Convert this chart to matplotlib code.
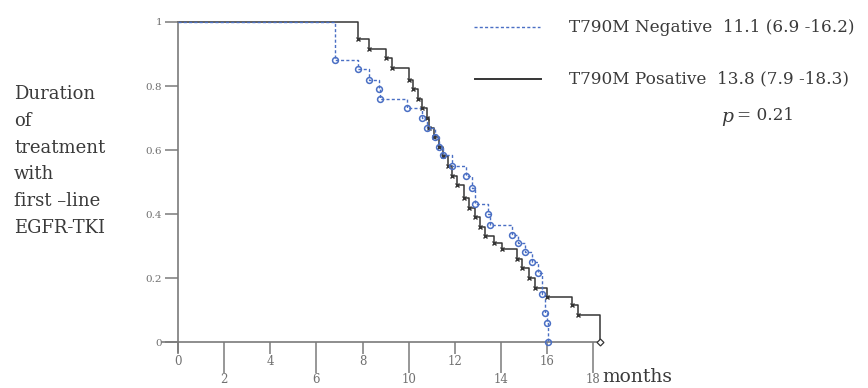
import numpy as np
import matplotlib as mpl
mpl.use('Agg')
import matplotlib.pyplot as plt
from matplotlib.ticker import FixedLocator, FixedFormatter

# Kaplan-Meier steps (months, proportion on treatment)
neg_t = [0, 6.8, 7.8, 8.3, 8.7, 8.75, 9.95, 10.6, 10.8, 11.15, 11.3, 11.5, 11.9,
         12.5, 12.75, 12.9, 13.45, 13.55, 14.5, 14.75, 15.05, 15.35, 15.6, 15.8,
         15.9, 16.0, 16.05]
neg_s = [1.0, 0.88, 0.853, 0.82, 0.79, 0.76, 0.73, 0.70, 0.67, 0.64, 0.61, 0.585, 0.55,
         0.52, 0.48, 0.43, 0.40, 0.365, 0.335, 0.31, 0.28, 0.25, 0.215, 0.15,
         0.09, 0.06, 0.0]

pos_t = [0, 7.8, 8.3, 9.0, 9.3, 10.0, 10.2, 10.4, 10.6, 10.8, 10.9, 11.1, 11.3, 11.5,
         11.7, 11.9, 12.1, 12.4, 12.6, 12.9, 13.1, 13.3, 13.7, 14.05, 14.7, 14.9,
         15.2, 15.5, 16.0, 17.1, 17.35, 18.3]
pos_s = [1.0, 0.947, 0.916, 0.886, 0.856, 0.82, 0.79, 0.76, 0.73, 0.70, 0.67, 0.64, 0.61, 0.58,
         0.55, 0.52, 0.49, 0.45, 0.42, 0.39, 0.36, 0.33, 0.31, 0.29, 0.26, 0.23,
         0.20, 0.17, 0.14, 0.115, 0.085, 0.0]

neg_label = "T790M Negative  11.1 (6.9 -16.2)"
pos_label = "T790M Posative  13.8 (7.9 -18.3)"
p_text = "= 0.21"

upper_ticks = [0, 4, 8, 12, 16]
lower_ticks = [2, 6, 10, 14, 18]
y_ticks = [0, 0.2, 0.4, 0.6, 0.8, 1]
y_ticklabels = ["0", "0.2", "0.4", "0.6", "0.8", "1"]

plt.rcParams['font.family'] = ['DejaVu Serif']

axc = '#7a7a7a'
txt = '#3a3a3a'
blue = '#4a6fc4'
dark = '#353535'

fig = plt.figure(figsize=(8.68, 3.88), dpi=100)
ax = fig.add_axes([0.1865, 0.0938, 0.5061, 0.8495])
ax.set_xlim(-0.7, 18.35)
ax.set_ylim(-0.03, 1.0)

# negative curve (dashed blue, open circles)
ax.step(neg_t, neg_s, where='post', color=blue, lw=1.0, ls=(0, (2.2, 1.6)), clip_on=False, zorder=3)
ax.plot(neg_t[1:], neg_s[1:], 'o', ms=4.2, mfc='none', mec=blue, mew=1.1, clip_on=False, zorder=4)

# positive curve (solid dark, small crosses)
ax.step(pos_t, pos_s, where='post', color=dark, lw=1.1, clip_on=False, zorder=2)
ax.plot(pos_t[1:-1], pos_s[1:-1], 'x', ms=3.2, color=dark, mew=1.0, clip_on=False, zorder=3)
ax.plot(pos_t[-1:], pos_s[-1:], 'D', ms=3.5, mfc='white', mec=dark, mew=0.9, clip_on=False, zorder=3)

for s in ['top', 'right']:
    ax.spines[s].set_visible(False)
ax.spines['left'].set_position(('data', 0))
ax.spines['bottom'].set_position(('data', 0))
for s in ['left', 'bottom']:
    ax.spines[s].set_color(axc)
    ax.spines[s].set_linewidth(1.2)

ax.set_yticks(y_ticks)
ax.set_yticklabels(y_ticklabels)
ax.tick_params(axis='y', direction='out', length=9.5, width=1.1, color=axc,
               labelsize=7.5, labelcolor='#707070', pad=2)

ax.xaxis.set_major_locator(FixedLocator(upper_ticks))
ax.xaxis.set_major_formatter(FixedFormatter([str(v) for v in upper_ticks]))
ax.xaxis.set_minor_locator(FixedLocator(lower_ticks))
ax.xaxis.set_minor_formatter(FixedFormatter([str(v) for v in lower_ticks]))
ax.tick_params(axis='x', which='major', direction='out', length=8.5, width=1.1, color=axc,
               labelsize=8.5, labelcolor='#707070', pad=1.0)
ax.tick_params(axis='x', which='minor', direction='out', length=22.5, width=1.1, color=axc,
               labelsize=8.5, labelcolor='#707070', pad=0.0)

fig.text(602 / 868, 1 - 377 / 388, "months", fontsize=13.5, color=txt, va='center', ha='left')

fig.text(14 / 868, 1 - 161 / 388,
         "Duration\nof\ntreatment\nwith\nfirst \u2013line\nEGFR-TKI",
         fontsize=13, color=txt, va='center', ha='left', linespacing=1.62)

# legend drawn by hand like the original
fig.add_artist(plt.Line2D([474 / 868, 540 / 868], [1 - 27 / 388] * 2, color=blue, lw=1.0,
                          ls=(0, (2.2, 1.6))))
fig.add_artist(plt.Line2D([475 / 868, 541 / 868], [1 - 79 / 388] * 2, color=dark, lw=1.4))
fig.text(569 / 868, 1 - 27 / 388, neg_label, fontsize=12.2, color=txt, va='center', ha='left')
fig.text(569 / 868, 1 - 79 / 388, pos_label, fontsize=12.2, color=txt, va='center', ha='left')
fig.text(721 / 868, 1 - 117 / 388, "p", fontsize=13.5, style='italic', color=txt, va='center', ha='left')
fig.text(737 / 868, 1 - 115 / 388, p_text, fontsize=12.2, color=txt, va='center', ha='left')

fig.savefig("out.png", dpi=100)
